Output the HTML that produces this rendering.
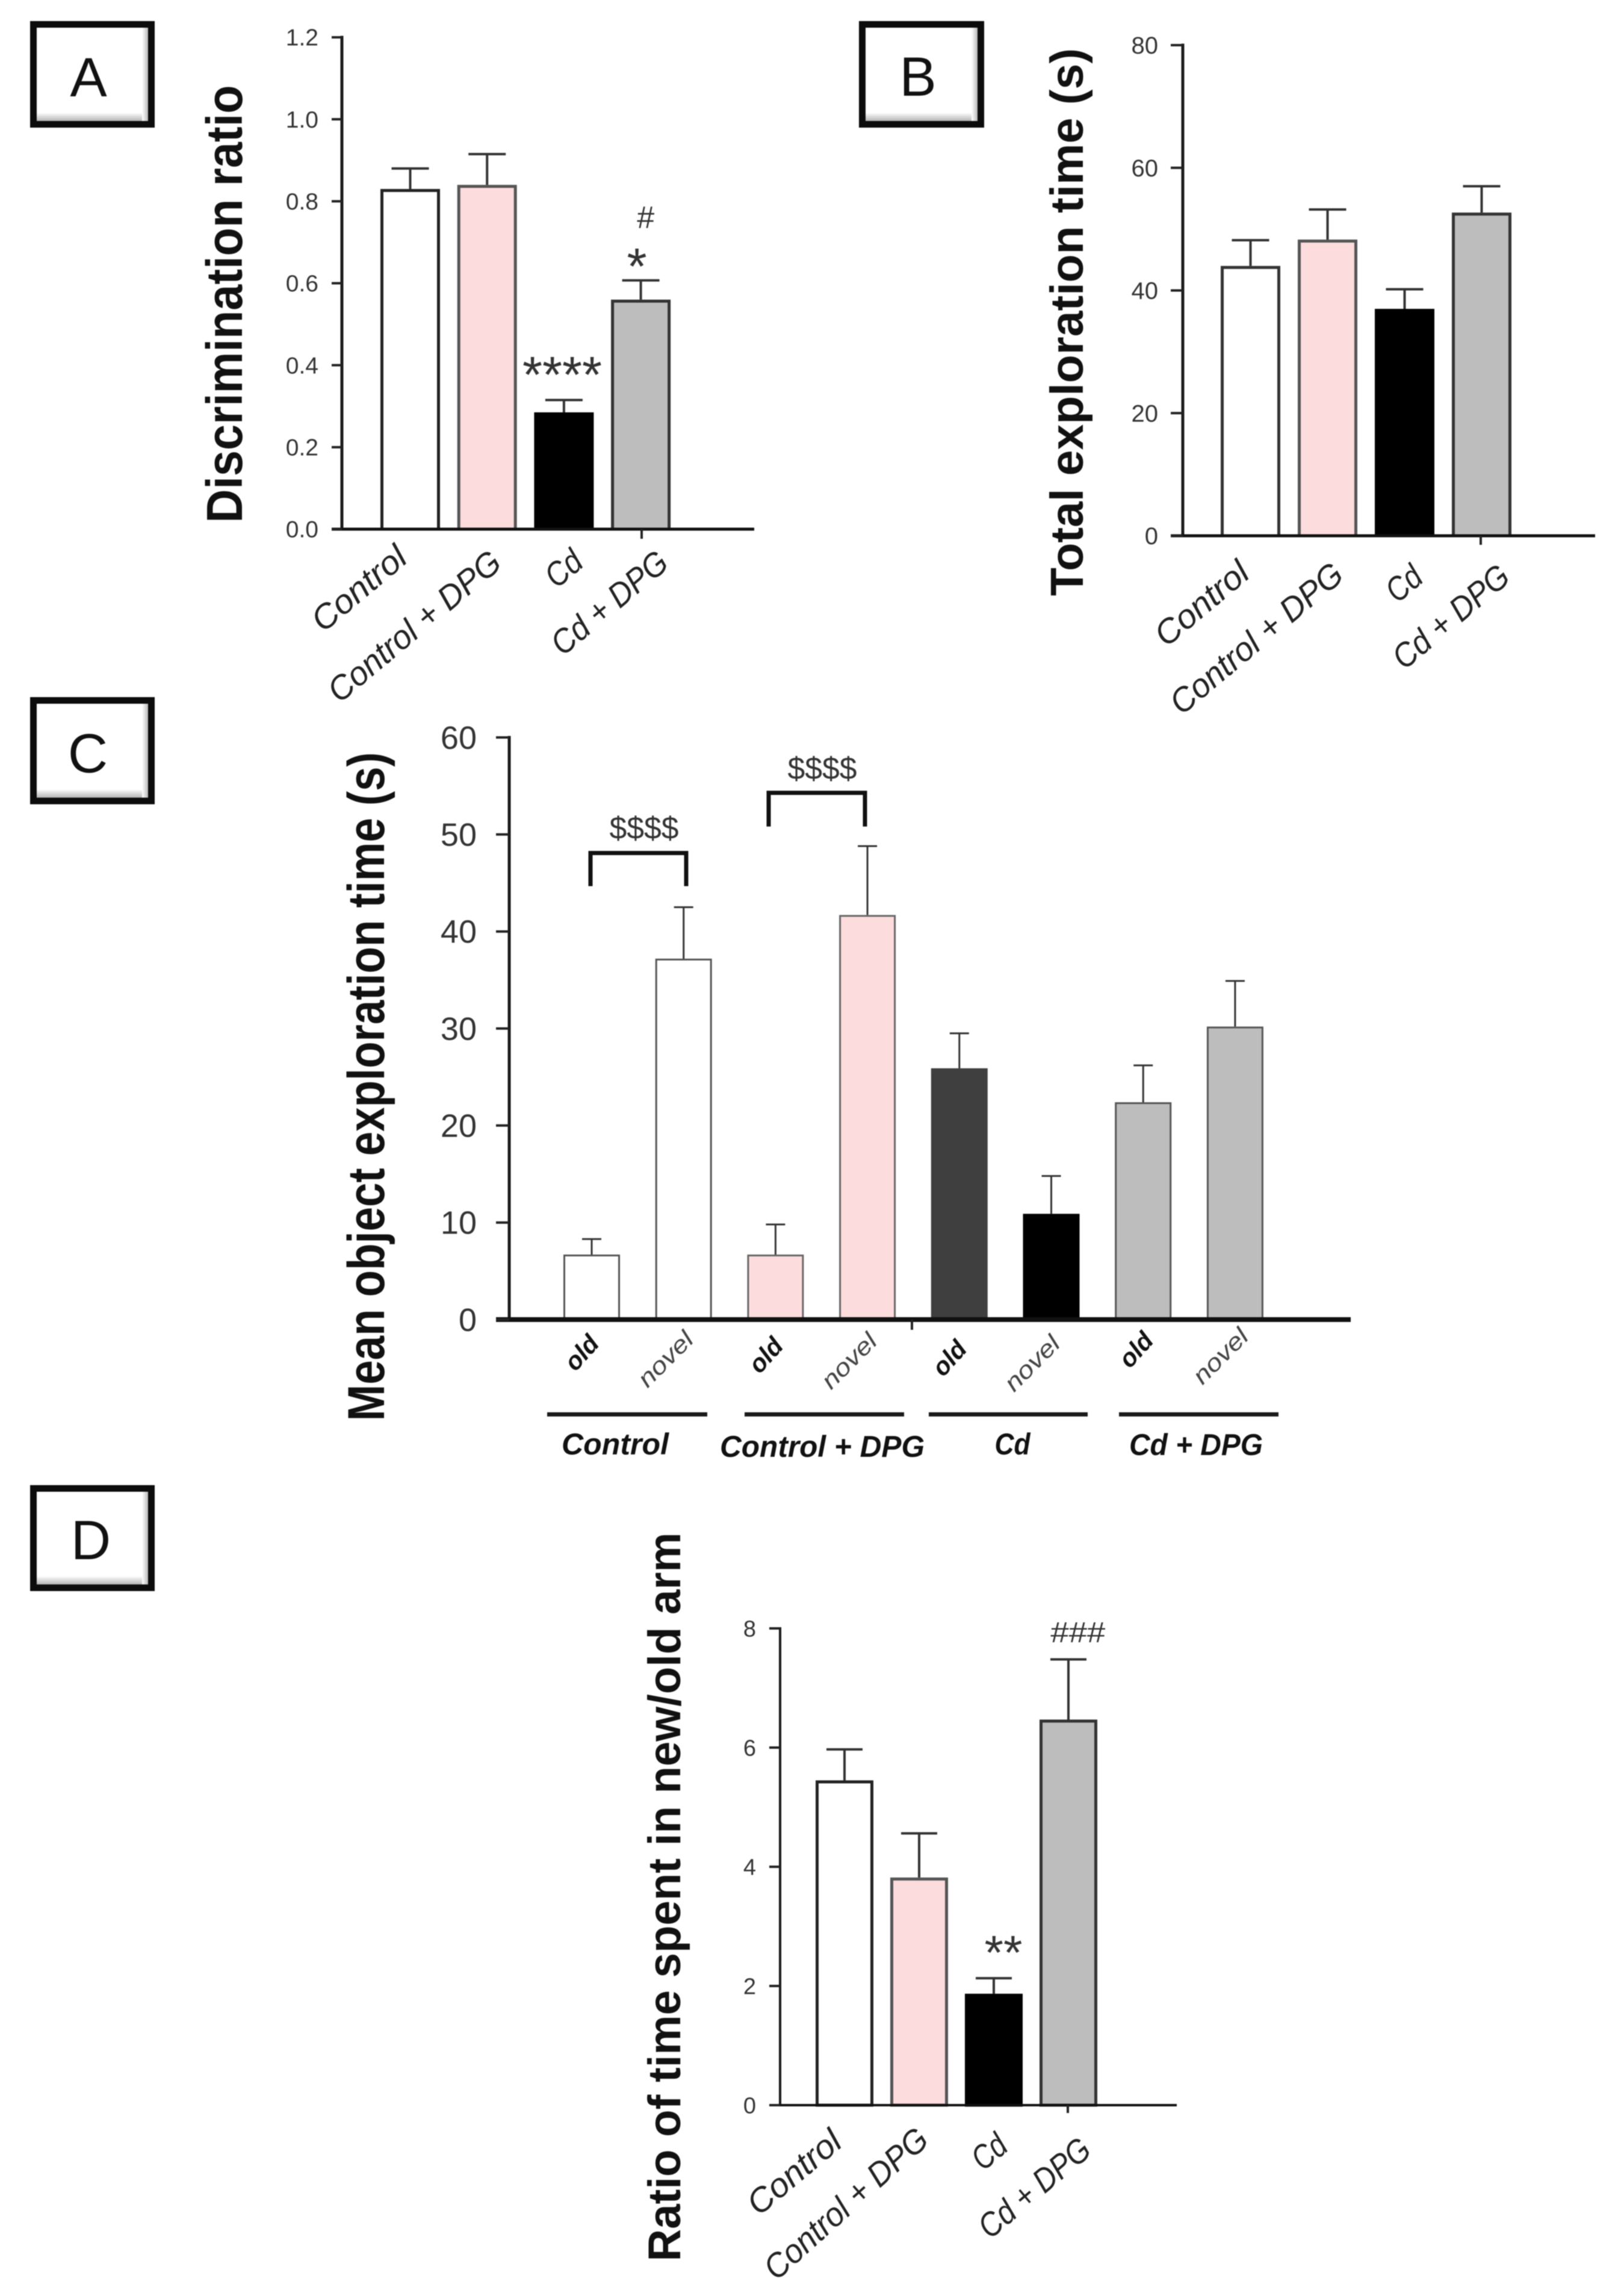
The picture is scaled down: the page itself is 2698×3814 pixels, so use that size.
<!DOCTYPE html>
<html lang="en">
<head>
<meta charset="utf-8">
<title>Behavioural test results</title>
<style>
html,body{margin:0;padding:0;background:#fff;}
svg{display:block;filter:blur(0.7px);}
text{font-family:"Liberation Sans",sans-serif;}
.letter{font-size:92px;fill:#111;text-anchor:middle;}
.ytitle{font-weight:bold;fill:#111;}
.xcat{font-style:italic;fill:#222;text-anchor:middle;dominant-baseline:central;}
.xold{font-style:italic;font-weight:bold;font-size:42px;fill:#111;text-anchor:middle;dominant-baseline:central;}
.xnovel{font-style:italic;font-size:40px;fill:#444;text-anchor:middle;dominant-baseline:central;}
.group{font-style:italic;font-weight:bold;font-size:50px;fill:#111;text-anchor:middle;}
.note{fill:#333;text-anchor:middle;}
</style>
</head>
<body>
<svg id="figure" xmlns="http://www.w3.org/2000/svg" width="2698" height="3814" viewBox="0 0 2698 3814">
  <defs>
    <linearGradient id="bevel-bottom" x1="0" y1="0" x2="0" y2="1">
      <stop offset="0" stop-color="#fff"/><stop offset="1" stop-color="#b5b5b5"/>
    </linearGradient>
    <linearGradient id="bevel-right" x1="0" y1="0" x2="1" y2="0">
      <stop offset="0" stop-color="#fff"/><stop offset="1" stop-color="#b9b9b9"/>
    </linearGradient>
  </defs>
  <rect width="2698" height="3814" fill="#fff"/>

  <!-- Panel letter boxes -->
  <g>
    <rect x="61" y="46" width="185" height="155" fill="#fff"/>
    <rect x="61" y="187" width="185" height="14" fill="url(#bevel-bottom)"/>
    <rect x="236" y="46" width="10" height="155" fill="url(#bevel-right)"/>
    <rect x="55.5" y="40.5" width="196" height="166" fill="none" stroke="#0c0c0c" stroke-width="11"/>
    <text class="letter" x="147" y="160">A</text>
  </g>
  <g>
    <rect x="1438" y="46" width="186" height="155" fill="#fff"/>
    <rect x="1438" y="187" width="186" height="14" fill="url(#bevel-bottom)"/>
    <rect x="1614" y="46" width="10" height="155" fill="url(#bevel-right)"/>
    <rect x="1432.5" y="40.5" width="197" height="166" fill="none" stroke="#0c0c0c" stroke-width="11"/>
    <text class="letter" x="1525" y="159">B</text>
  </g>
  <g>
    <rect x="61" y="1169" width="185" height="156" fill="#fff"/>
    <rect x="61" y="1311" width="185" height="14" fill="url(#bevel-bottom)"/>
    <rect x="236" y="1169" width="10" height="156" fill="url(#bevel-right)"/>
    <rect x="55.5" y="1163.5" width="196" height="167" fill="none" stroke="#0c0c0c" stroke-width="11"/>
    <text class="letter" x="146" y="1283">C</text>
  </g>
  <g>
    <rect x="61" y="2478" width="185" height="154" fill="#fff"/>
    <rect x="61" y="2618" width="185" height="14" fill="url(#bevel-bottom)"/>
    <rect x="236" y="2478" width="10" height="154" fill="url(#bevel-right)"/>
    <rect x="55.5" y="2472.5" width="196" height="165" fill="none" stroke="#0c0c0c" stroke-width="11"/>
    <text class="letter" x="151" y="2590">D</text>
  </g>

  <!-- Y axis titles -->
  <text class="ytitle" font-size="84" text-anchor="middle" textLength="727" lengthAdjust="spacingAndGlyphs" transform="translate(402 505) rotate(-90)">Discrimination ratio</text>
  <text class="ytitle" font-size="77" text-anchor="middle" textLength="910" lengthAdjust="spacingAndGlyphs" transform="translate(1799 535) rotate(-90)">Total exploration time (s)</text>
  <text class="ytitle" font-size="72" text-anchor="middle" textLength="1111" lengthAdjust="spacingAndGlyphs" transform="translate(638 1805) rotate(-90) scale(1 1.2)">Mean object exploration time (s)</text>
  <text class="ytitle" font-size="76" text-anchor="middle" textLength="1211" lengthAdjust="spacingAndGlyphs" transform="translate(1130 3151) rotate(-90)">Ratio of time spent in new/old arm</text>

  <!-- Panel A category labels -->
  <text class="xcat" font-size="56" textLength="187" lengthAdjust="spacingAndGlyphs" transform="translate(596 977) rotate(-40)">Control</text>
  <text class="xcat" font-size="56" textLength="356" lengthAdjust="spacingAndGlyphs" transform="translate(688 1040) rotate(-40)">Control + DPG</text>
  <text class="xcat" font-size="56" textLength="62" lengthAdjust="spacingAndGlyphs" transform="translate(936 944) rotate(-40)">Cd</text>
  <text class="xcat" font-size="56" textLength="234" lengthAdjust="spacingAndGlyphs" transform="translate(1012 1001) rotate(-40)">Cd + DPG</text>

  <!-- Panel B category labels -->
  <text class="xcat" font-size="56" textLength="185" lengthAdjust="spacingAndGlyphs" transform="translate(1996 1002) rotate(-40)">Control</text>
  <text class="xcat" font-size="56" textLength="356" lengthAdjust="spacingAndGlyphs" transform="translate(2087 1060) rotate(-40)">Control + DPG</text>
  <text class="xcat" font-size="56" textLength="60" lengthAdjust="spacingAndGlyphs" transform="translate(2332 969) rotate(-40)">Cd</text>
  <text class="xcat" font-size="56" textLength="234" lengthAdjust="spacingAndGlyphs" transform="translate(2410 1024) rotate(-40)">Cd + DPG</text>

  <!-- Panel C sub labels -->
  <text class="xold" textLength="62" lengthAdjust="spacingAndGlyphs" transform="translate(966 2247) rotate(-48)">old</text>
  <text class="xnovel" textLength="112" lengthAdjust="spacingAndGlyphs" transform="translate(1106 2258) rotate(-45)">novel</text>
  <text class="xold" textLength="62" lengthAdjust="spacingAndGlyphs" transform="translate(1272 2251) rotate(-48)">old</text>
  <text class="xnovel" textLength="112" lengthAdjust="spacingAndGlyphs" transform="translate(1411 2261) rotate(-45)">novel</text>
  <text class="xold" textLength="62" lengthAdjust="spacingAndGlyphs" transform="translate(1577 2256) rotate(-48)">old</text>
  <text class="xnovel" textLength="112" lengthAdjust="spacingAndGlyphs" transform="translate(1715 2265) rotate(-45)">novel</text>
  <text class="xold" textLength="62" lengthAdjust="spacingAndGlyphs" transform="translate(1887 2242) rotate(-48)">old</text>
  <text class="xnovel" textLength="112" lengthAdjust="spacingAndGlyphs" transform="translate(2028 2253) rotate(-45)">novel</text>

  <!-- Panel C group rules and labels -->
  <rect x="909" y="2346" width="266" height="7" fill="#1a1a1a"/>
  <rect x="1237" y="2346" width="265" height="7" fill="#1a1a1a"/>
  <rect x="1543" y="2346" width="264" height="7" fill="#1a1a1a"/>
  <rect x="1859" y="2346" width="265" height="7" fill="#1a1a1a"/>
  <text class="group" x="1022" y="2416" textLength="178" lengthAdjust="spacingAndGlyphs">Control</text>
  <text class="group" x="1366" y="2420" textLength="340" lengthAdjust="spacingAndGlyphs">Control + DPG</text>
  <text class="group" x="1682" y="2416" textLength="59" lengthAdjust="spacingAndGlyphs">Cd</text>
  <text class="group" x="1987" y="2417" textLength="222" lengthAdjust="spacingAndGlyphs">Cd + DPG</text>

  <!-- Panel C significance brackets -->
  <path d="M981 1472V1417H1140V1472" fill="none" stroke="#111" stroke-width="7"/>
  <path d="M1277 1373V1317H1437V1373" fill="none" stroke="#111" stroke-width="7"/>
  <text class="note" x="1070" y="1393" font-size="52" textLength="115" lengthAdjust="spacingAndGlyphs">$$$$</text>
  <text class="note" x="1366" y="1294" font-size="52" textLength="115" lengthAdjust="spacingAndGlyphs">$$$$</text>

  <!-- Panel D category labels -->
  <text class="xcat" font-size="56" textLength="185" lengthAdjust="spacingAndGlyphs" transform="translate(1319 3608) rotate(-40)">Control</text>
  <text class="xcat" font-size="56" textLength="345" lengthAdjust="spacingAndGlyphs" transform="translate(1405 3660) rotate(-42)">Control + DPG</text>
  <text class="xcat" font-size="56" textLength="58" lengthAdjust="spacingAndGlyphs" transform="translate(1643 3574) rotate(-40)">Cd</text>
  <text class="xcat" font-size="56" textLength="224" lengthAdjust="spacingAndGlyphs" transform="translate(1718 3634) rotate(-40)">Cd + DPG</text>

  <!-- Significance marks, panels A and D -->
  <text class="note" x="934" y="652" font-size="85" textLength="132" lengthAdjust="spacingAndGlyphs">****</text>
  <text class="note" x="1058" y="472" font-size="85">*</text>
  <text class="note" x="1072" y="379" font-size="52" font-style="italic">#</text>
  <text class="note" x="1667" y="3271" font-size="80" textLength="63" lengthAdjust="spacingAndGlyphs">**</text>
  <text class="note" x="1790" y="2728" font-size="48" font-style="italic" textLength="91" lengthAdjust="spacingAndGlyphs">###</text>
</svg>

<script>
// ---- Chart data ----
const panelAMeans = [0.83, 0.84, 0.285, 0.56];
const panelAErrorTops = [0.88, 0.915, 0.315, 0.607];
const panelATicks = [0, 0.2, 0.4, 0.6, 0.8, 1.0, 1.2];
const panelATickLabels = ['0.0', '0.2', '0.4', '0.6', '0.8', '1.0', '1.2'];

const panelBMeans = [44, 48.3, 37, 52.7];
const panelBErrorTops = [48.2, 53.2, 40.2, 57];
const panelBTicks = [0, 20, 40, 60, 80];
const panelBTickLabels = ['0', '20', '40', '60', '80'];

const panelCMeans = [6.7, 37.2, 6.7, 41.7, 25.9, 10.9, 22.4, 30.2];
const panelCErrorTops = [8.3, 42.5, 9.8, 48.8, 29.5, 14.8, 26.2, 34.9];
const panelCTicks = [0, 10, 20, 30, 40, 50, 60];
const panelCTickLabels = ['0', '10', '20', '30', '40', '50', '60'];

const panelDMeans = [5.45, 3.82, 1.87, 6.47];
const panelDErrorTops = [5.97, 4.56, 2.13, 7.48];
const panelDTicks = [0, 2, 4, 6, 8];
const panelDTickLabels = ['0', '2', '4', '6', '8'];

// ---- Rendering ----
const NS = 'http://www.w3.org/2000/svg';
const figure = document.getElementById('figure');

function make(tag, attrs, parent) {
  const node = document.createElementNS(NS, tag);
  for (const key in attrs) node.setAttribute(key, attrs[key]);
  parent.appendChild(node);
  return node;
}

function drawPanel(id, means, errorTops, ticks, tickLabels, opt) {
  const group = make('g', {}, figure);
  
  

  const axisMax = ticks[ticks.length - 1];
  const yScale = function (v) { return opt.y0 - (v / axisMax) * (opt.y0 - opt.yTop); };
  const xScale = function (i) { return opt.x0 + i * opt.step; };

  means.forEach(function (value, i) {
    const left = xScale(i);
    const centre = left + opt.barWidth / 2;
    const topY = yScale(value);
    const errY = yScale(errorTops[i]);

    const stem = make('line', { x1: centre, x2: centre, y1: topY, y2: errY, stroke: '#333', 'stroke-width': opt.errWidth }, group);
    
    

    const cap = make('line', { x1: centre - opt.capHalf, x2: centre + opt.capHalf, y1: errY, y2: errY, stroke: '#333', 'stroke-width': opt.errWidth }, group);
    
    

    const inset = opt.barStroke / 2;
    const bar = make('rect', {
      x: left + inset,
      y: topY + inset,
      width: opt.barWidth - opt.barStroke,
      height: Math.max(0, opt.y0 - topY - inset),
      fill: opt.fills[i],
      stroke: opt.strokes[i],
      'stroke-width': opt.barStroke
    }, group);
    
    
  });

  const yAxis = make('line', { x1: opt.axisX, x2: opt.axisX, y1: opt.yTop - opt.axisWidth / 2, y2: opt.y0, stroke: '#1a1a1a', 'stroke-width': opt.axisWidth }, group);
  
  

  const xAxis = make('line', { x1: opt.tickLeft, x2: opt.axisEnd, y1: opt.y0, y2: opt.y0, stroke: '#111', 'stroke-width': opt.xAxisWidth }, group);
  
  

  const xTick = make('line', { x1: opt.xTickX, x2: opt.xTickX, y1: opt.y0, y2: opt.xTickEnd, stroke: '#222', 'stroke-width': 4 }, group);
  
  

  ticks.forEach(function (tick, i) {
    const y = yScale(tick);
    const mark = make('line', { x1: opt.tickLeft, x2: opt.axisX, y1: y, y2: y, stroke: '#222', 'stroke-width': 4 }, group);
    
    

    const label = make('text', {
      x: opt.tickTextRight,
      y: y + opt.tickFont * 0.35,
      'text-anchor': 'end',
      'font-size': opt.tickFont,
      fill: '#333'
    }, group);
    label.textContent = tickLabels[i];
    
    
  });
}

const PINK = '#fddcdd';
const GREY = '#bdbdbd';
const DARK = '#3f3f3f';

drawPanel('a', panelAMeans, panelAErrorTops, panelATicks, panelATickLabels, {
  x0: 632, step: 127.7, barWidth: 99, barStroke: 5, errWidth: 4, capHalf: 31,
  y0: 879, yTop: 62, axisX: 568, tickLeft: 551, axisEnd: 1253, axisWidth: 5, xAxisWidth: 5,
  xTickX: 1066, xTickEnd: 895, tickTextRight: 529, tickFont: 39,
  fills: ['#fff', PINK, '#000', GREY],
  strokes: ['#222', '#555', '#000', '#333']
});

drawPanel('b', panelBMeans, panelBErrorTops, panelBTicks, panelBTickLabels, {
  x0: 2028, step: 128, barWidth: 99, barStroke: 5, errWidth: 4, capHalf: 31,
  y0: 890, yTop: 75, axisX: 1965, tickLeft: 1945, axisEnd: 2650, axisWidth: 5, xAxisWidth: 5,
  xTickX: 2460, xTickEnd: 905, tickTextRight: 1924, tickFont: 40,
  fills: ['#fff', PINK, '#000', GREY],
  strokes: ['#333', '#555', '#000', '#333']
});

drawPanel('c', panelCMeans, panelCErrorTops, panelCTicks, panelCTickLabels, {
  x0: 936, step: 152.7, barWidth: 94, barStroke: 3, errWidth: 3, capHalf: 16,
  y0: 2192, yTop: 1225, axisX: 846, tickLeft: 824, axisEnd: 2244, axisWidth: 5, xAxisWidth: 8,
  xTickX: 1515, xTickEnd: 2209, tickTextRight: 792, tickFont: 54,
  fills: ['#fff', '#fff', PINK, PINK, DARK, '#000', GREY, GREY],
  strokes: ['#555', '#555', '#666', '#666', DARK, '#000', '#555', '#555']
});

drawPanel('d', panelDMeans, panelDErrorTops, panelDTicks, panelDTickLabels, {
  x0: 1355, step: 124, barWidth: 96, barStroke: 5, errWidth: 4, capHalf: 30,
  y0: 3497, yTop: 2705, axisX: 1296, tickLeft: 1278, axisEnd: 1955, axisWidth: 4, xAxisWidth: 4,
  xTickX: 1774, xTickEnd: 3510, tickTextRight: 1256, tickFont: 38,
  fills: ['#fff', PINK, '#000', GREY],
  strokes: ['#222', '#555', '#000', '#333']
});
</script>
</body>
</html>
